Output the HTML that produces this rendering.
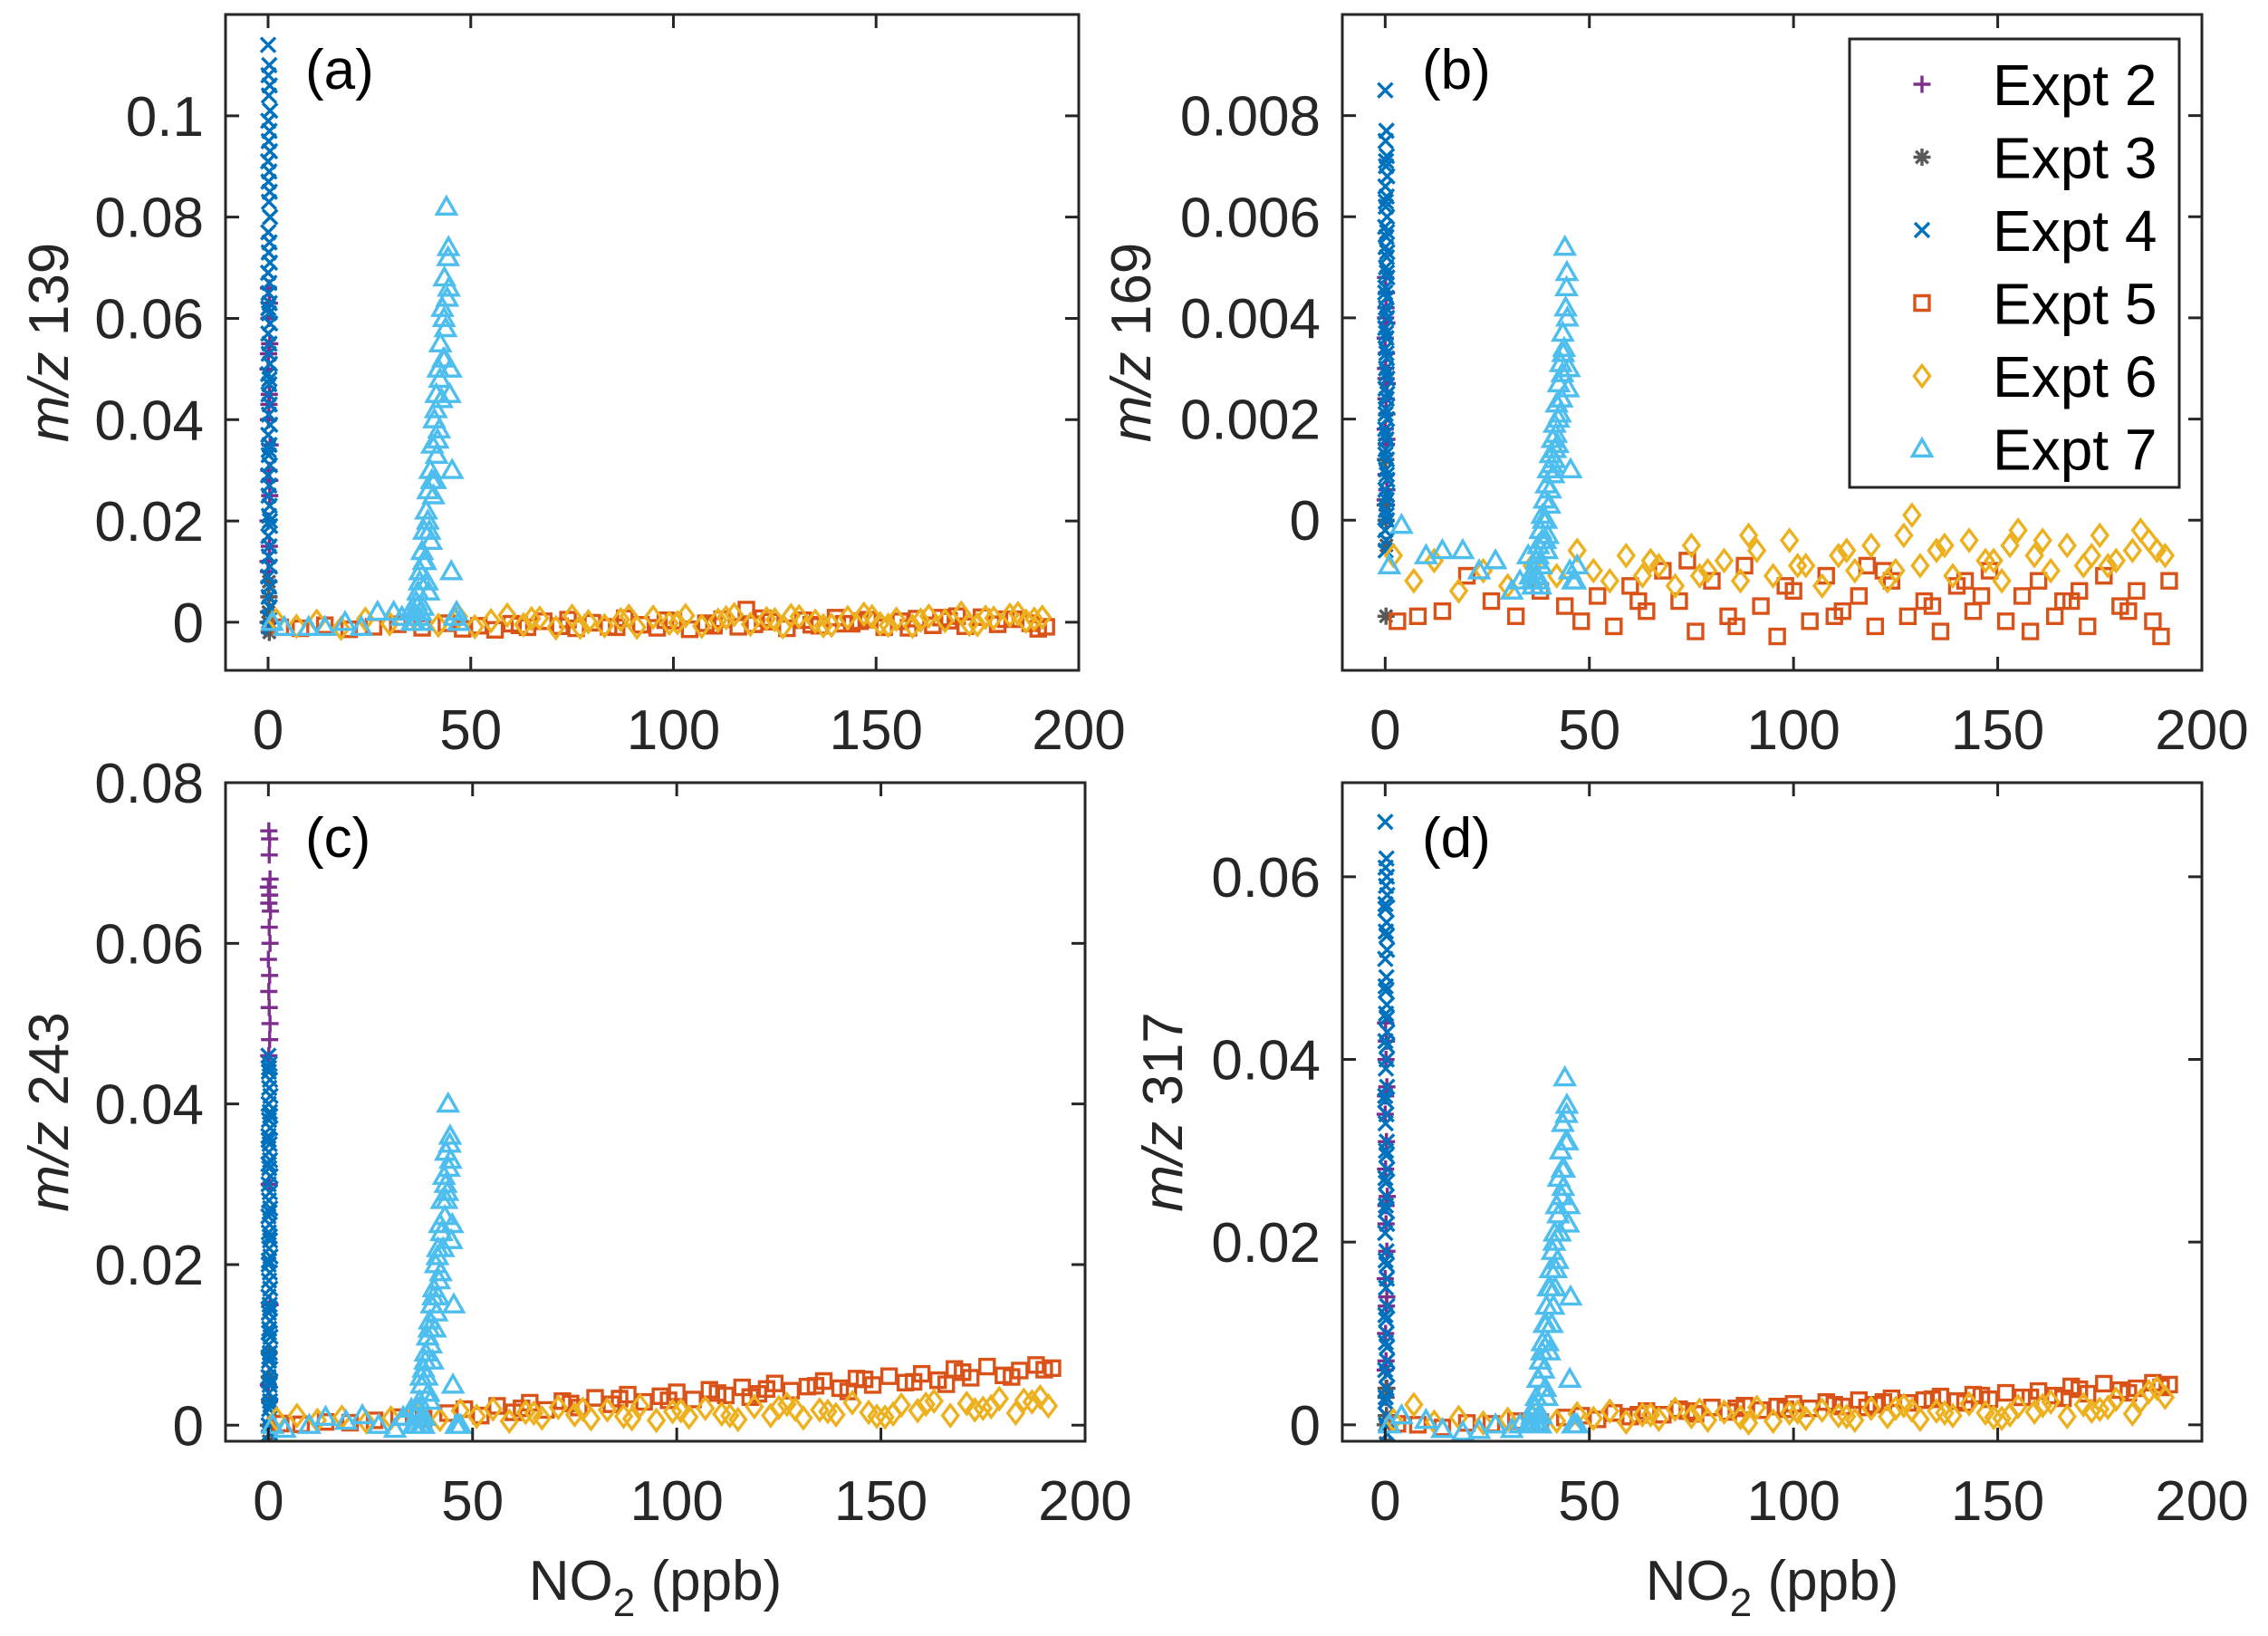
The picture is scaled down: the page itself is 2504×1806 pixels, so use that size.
<!DOCTYPE html>
<html><head><meta charset="utf-8"><style>
html,body{margin:0;padding:0;background:#fff;}
svg{display:block;font-family:"Liberation Sans",Arial,sans-serif;}
</style></head><body>
<svg id="fig" width="2504" height="1806" viewBox="0 0 2504 1806" xmlns="http://www.w3.org/2000/svg"></svg>
<script>
// ---- shared x data ----
const e2X=[0.1,0.3,0.2,0.4,0.0,0.3,0.1,0.5,0.2,0.4,0.0,0.3,0.1,0.2,0.4,0.3,0.1,0.2,0.4,0.0];
const e3X=[0.2,0.1,0.3,0.0,0.2];
const e4X=[0,0.3,0.1,0.4,0.2,0.5,0.05,0.35,0.15,0.45,0,0.3,0.1,0.4,0.2,0.5,0.05,0.35,0.15,0.45,0,0.3,0.1,0.4,0.2,0.5,0.05,0.35,0.15,0.45,0,0.3,0.1,0.4,0.2,0.5,0.05,0.35,0.15,0.45,0,0.3,0.1,0.4,0.2,0.5,0.05,0.35,0.15,0.45,0,0.3,0.1,0.4,0.2,0.5,0.05,0.35,0.15,0.45];
const e5X=[3,8,14,20,26,32,38,44,48,52,56,60,64,68,72,76,80,84,88,92,96,100,104,108,112,116,120,124,128,132,136,140,144,148,152,156,160,164,168,172,176,180,184,188,192,62,74,86,98,110,122,134,146,158,170,182,190,118,142,166];
const e6X=[2,7,12,18,24,30,36,42,47,51,55,59,63,67,71,75,79,83,87,91,95,99,103,107,111,115,119,123,127,131,135,139,143,147,151,155,159,163,167,171,175,179,183,187,191,65,77,89,101,113,125,137,149,161,173,185,189,129,153,177];
const e7X=[1,4,10,14,19,23,27,31,33,35,36,36.5,37,37.5,38,38.5,39,39.5,40,40.5,41,41.5,42,42.5,43,43.5,44,44.5,45,46,36.2,37.2,38.2,39.2,40.2,41.2,42.2,43.2,44.2,45.2,38.8,40.8,42.8,43.8,44.4,41.6,39.6,37.6,35.5,47,36.8,37.4,38.4,39.4,40.4,41.4,42.4,43.4,44.6,45.4,39.8,41.8,43.6,44.8,38,46.5];
// ---- panel (a) m/z 139 ----
const e2A=[0.066,0.063,0.060,0.055,0.050,0.045,0.040,0.035,0.030,0.025,0.020,0.015,0.010,0.005,0.002,0.000,0.053,0.043,0.028,0.012];
const e3A=[0.008,0.002,-0.002,0.000,0.005];
const e4A=[0.114,0.110,0.108,0.106,0.104,0.101,0.099,0.097,0.095,0.093,0.091,0.089,0.087,0.085,0.083,0.080,0.077,0.075,0.073,0.071,0.069,0.067,0.065,0.063,0.061,0.059,0.057,0.055,0.053,0.051,0.049,0.047,0.045,0.043,0.041,0.039,0.037,0.035,0.033,0.031,0.029,0.027,0.025,0.023,0.021,0.019,0.017,0.015,0.013,0.011,0.009,0.007,0.005,0.003,0.001,-0.001,0.062,0.048,0.034,0.020];
const e5A=[-0.0010,-0.0012,-0.0006,-0.0014,-0.0009,-0.0004,-0.0011,-0.0002,-0.0013,-0.0007,-0.0015,-0.0003,-0.0010,0.0002,-0.0008,-0.0012,-0.0001,-0.0009,0.0008,-0.0005,-0.0011,0.0003,-0.0014,-0.0002,0.0006,-0.0009,-0.0004,0.0001,-0.0012,0.0004,-0.0007,0.0009,-0.0003,0.0005,-0.0010,0.0002,0.0007,-0.0006,0.0003,-0.0008,0.0010,-0.0004,0.0006,-0.0002,-0.0009,-0.0006,0.0005,-0.0010,0.0004,-0.0007,0.0008,-0.0005,0.0002,-0.0011,0.0012,0.0006,-0.0013,0.0025,-0.0003,0.0009];
const e6A=[0.0004,-0.0008,0.0002,-0.0012,0.0006,-0.0003,0.0009,-0.0006,0.0011,-0.0009,0.0003,0.0014,-0.0005,0.0008,-0.0011,0.0012,0.0001,-0.0007,0.0005,-0.0010,0.0010,-0.0002,0.0013,-0.0008,0.0004,0.0015,-0.0004,0.0007,-0.0009,0.0011,0.0002,-0.0006,0.0009,0.0016,-0.0003,0.0006,-0.0008,0.0012,0.0003,0.0018,-0.0005,0.0008,0.0014,0.0002,0.0010,0.0007,-0.0010,0.0012,-0.0001,0.0009,0.0005,-0.0007,0.0011,0.0004,-0.0004,0.0017,0.0006,0.0013,-0.0006,0.0010];
const e7A=[0.000,-0.001,-0.001,-0.001,0.000,-0.001,0.002,0.002,0.001,0.002,0.002,0.004,0.006,0.010,0.014,0.018,0.022,0.026,0.030,0.035,0.040,0.045,0.050,0.055,0.062,0.068,0.082,0.074,0.050,0.001,0.000,0.001,0.003,0.008,0.016,0.028,0.038,0.052,0.064,0.010,0.012,0.025,0.044,0.058,0.072,0.033,0.006,0.002,0.000,0.000,0.003,0.008,0.012,0.020,0.028,0.042,0.048,0.060,0.066,0.030,0.018,0.036,0.052,0.045,0.000,0.002];
// ---- panel (b) m/z 169 ----
const e2B=[0.0048,0.0045,0.0042,0.0039,0.0036,0.0033,0.0030,0.0027,0.0024,0.0021,0.0018,0.0015,0.0012,0.0009,0.0006,0.0003,0.0040,0.0028,0.0016,0.0004];
const e3B=[-0.0019,0.0012,-0.0005,0.0003,0.0000];
const e4B=[0.0085,0.0077,0.0075,0.0072,0.0070,0.0068,0.0066,0.0064,0.0062,0.0060,0.0058,0.0056,0.0054,0.0052,0.0050,0.0048,0.0046,0.0044,0.0042,0.0040,0.0038,0.0036,0.0034,0.0032,0.0030,0.0028,0.0026,0.0024,0.0022,0.0020,0.0018,0.0016,0.0014,0.0012,0.0010,0.0008,0.0006,0.0004,0.0002,0.0000,-0.0002,-0.0004,-0.0006,0.0049,0.0037,0.0025,0.0013,0.0001,0.0063,0.0057,0.0045,0.0033,0.0021,0.0009,0.0071,0.0053,0.0041,0.0029,0.0017,0.0005];
const e5B=[-0.0020,-0.0019,-0.0018,-0.0011,-0.0016,-0.0019,-0.0014,-0.0017,-0.0020,-0.0015,-0.0021,-0.0013,-0.0018,-0.0010,-0.0016,-0.0022,-0.0012,-0.0019,-0.0009,-0.0017,-0.0023,-0.0014,-0.0020,-0.0011,-0.0018,-0.0015,-0.0021,-0.0012,-0.0019,-0.0016,-0.0022,-0.0013,-0.0018,-0.0010,-0.0020,-0.0015,-0.0012,-0.0019,-0.0016,-0.0021,-0.0011,-0.0017,-0.0014,-0.0020,-0.0012,-0.0016,-0.0008,-0.0021,-0.0013,-0.0019,-0.0010,-0.0017,-0.0015,-0.0022,-0.0014,-0.0018,-0.0023,-0.0009,-0.0012,-0.0016];
const e6B=[-0.0007,-0.0012,-0.0008,-0.0014,-0.0010,-0.0013,-0.0009,-0.0011,-0.0006,-0.0010,-0.0012,-0.0007,-0.0011,-0.0009,-0.0013,-0.0005,-0.0010,-0.0008,-0.0012,-0.0006,-0.0011,-0.0004,-0.0009,-0.0013,-0.0007,-0.0010,-0.0005,-0.0012,-0.0003,-0.0009,-0.0006,-0.0011,-0.0004,-0.0008,-0.0012,-0.0002,-0.0007,-0.0010,-0.0005,-0.0009,-0.0003,-0.0008,-0.0006,-0.0004,-0.0007,-0.0008,-0.0011,-0.0003,-0.0009,-0.0006,-0.0010,-0.0005,-0.0008,-0.0004,-0.0007,-0.0002,-0.0006,0.0001,-0.0005,-0.0009];
const e7B=[-0.0009,-0.0001,-0.0007,-0.0006,-0.0006,-0.0010,-0.0008,-0.0014,-0.0012,-0.0007,-0.0012,-0.0010,-0.0008,-0.0005,-0.0002,0.0001,0.0004,0.0007,0.0010,0.0013,0.0016,0.0019,0.0023,0.0027,0.0031,0.0037,0.0054,0.0049,0.0030,-0.0012,-0.0013,-0.0011,-0.0009,-0.0004,0.0003,0.0009,0.0015,0.0024,0.0042,-0.0010,0.0000,0.0011,0.0021,0.0034,0.0046,0.0014,-0.0006,-0.0012,-0.0011,-0.0009,-0.0011,-0.0007,-0.0004,0.0000,0.0006,0.0012,0.0020,0.0029,0.0040,0.0010,-0.0003,0.0017,0.0033,0.0026,-0.0013,-0.0012];
// ---- panel (c) m/z 243 ----
const e2C=[0.074,0.073,0.071,0.068,0.067,0.066,0.065,0.064,0.062,0.060,0.058,0.056,0.054,0.052,0.050,0.048,0.046,0.030,0.015,0.005];
const e3C=[0.009,-0.002,0.003,0.000,0.006];
const e4C=[0.046,0.045,0.044,0.043,0.042,0.041,0.040,0.039,0.038,0.037,0.036,0.035,0.034,0.033,0.032,0.031,0.030,0.029,0.028,0.027,0.026,0.025,0.024,0.023,0.022,0.021,0.020,0.019,0.018,0.017,0.016,0.015,0.014,0.013,0.012,0.011,0.010,0.009,0.008,0.007,0.006,0.005,0.004,0.003,0.002,0.001,0.000,-0.001,0.0445,0.0385,0.0325,0.0265,0.0205,0.0145,0.0085,0.0025,0.0355,0.0235,0.0115,0.0055];
const e5C=[0.0002,0.0001,0.0004,0.0003,0.0006,0.0010,0.0008,0.0015,0.0020,0.0012,0.0024,0.0016,0.0028,0.0019,0.0030,0.0022,0.0034,0.0026,0.0038,0.0029,0.0036,0.0041,0.0032,0.0044,0.0037,0.0047,0.0039,0.0052,0.0043,0.0048,0.0055,0.0046,0.0058,0.0050,0.0061,0.0053,0.0064,0.0056,0.0070,0.0059,0.0073,0.0062,0.0068,0.0075,0.0071,0.0021,0.0027,0.0033,0.0031,0.0040,0.0045,0.0049,0.0057,0.0054,0.0066,0.0060,0.0069,0.0035,0.0042,0.0051];
const e6C=[0.0008,0.0012,0.0006,0.0010,0.0004,0.0009,0.0014,0.0007,0.0018,0.0011,0.0020,0.0005,0.0016,0.0009,0.0022,0.0013,0.0008,0.0019,0.0011,0.0024,0.0006,0.0017,0.0010,0.0021,0.0014,0.0007,0.0023,0.0012,0.0026,0.0009,0.0019,0.0013,0.0028,0.0016,0.0010,0.0025,0.0018,0.0030,0.0012,0.0027,0.0021,0.0033,0.0015,0.0029,0.0024,0.0015,0.0020,0.0008,0.0018,0.0012,0.0022,0.0017,0.0011,0.0026,0.0019,0.0031,0.0035,0.0020,0.0014,0.0023];
const e7C=[0.000,-0.0005,0.000,0.001,0.0005,0.0012,0.000,-0.0005,0.001,0.002,0.001,0.002,0.003,0.005,0.007,0.009,0.011,0.013,0.015,0.017,0.020,0.022,0.025,0.028,0.031,0.034,0.040,0.036,0.025,0.000,0.000,0.000,0.001,0.004,0.008,0.014,0.019,0.026,0.032,0.005,0.006,0.012,0.022,0.029,0.035,0.016,0.003,0.001,0.000,0.000,0.002,0.006,0.008,0.012,0.016,0.021,0.024,0.030,0.033,0.015,0.010,0.018,0.028,0.023,0.000,0.000];
// ---- panel (d) m/z 317 ----
const e2D=[0.044,0.042,0.040,0.037,0.034,0.031,0.028,0.025,0.022,0.019,0.016,0.013,0.010,0.007,0.004,0.001,0.036,0.024,0.014,0.006];
const e3D=[0.004,-0.002,0.001,0.000,0.003];
const e4D=[0.066,0.062,0.061,0.060,0.059,0.058,0.057,0.055,0.054,0.052,0.051,0.049,0.048,0.046,0.045,0.043,0.042,0.040,0.039,0.037,0.036,0.034,0.033,0.031,0.030,0.028,0.027,0.025,0.024,0.022,0.021,0.019,0.018,0.016,0.015,0.013,0.012,0.010,0.009,0.007,0.006,0.004,0.003,0.001,0.000,-0.001,0.0565,0.0535,0.0475,0.0415,0.0355,0.0295,0.0235,0.0175,0.0115,0.0055,0.0025,0.0445,0.0265,0.0085];
const e5D=[0.0001,0.0000,-0.0003,0.0002,0.0001,0.0004,0.0003,0.0008,0.0010,0.0006,0.0013,0.0009,0.0015,0.0011,0.0017,0.0012,0.0019,0.0014,0.0021,0.0016,0.0020,0.0023,0.0018,0.0025,0.0020,0.0027,0.0022,0.0029,0.0024,0.0027,0.0031,0.0026,0.0033,0.0028,0.0035,0.0030,0.0037,0.0032,0.0042,0.0034,0.0045,0.0038,0.0040,0.0046,0.0044,0.0011,0.0015,0.0018,0.0017,0.0022,0.0025,0.0028,0.0032,0.0030,0.0039,0.0035,0.0041,0.0019,0.0024,0.0029];
const e6D=[0.0005,0.0022,0.0003,0.0008,0.0002,0.0006,0.0010,0.0004,0.0012,0.0007,0.0015,0.0003,0.0011,0.0006,0.0017,0.0009,0.0005,0.0014,0.0008,0.0019,0.0004,0.0013,0.0007,0.0016,0.0010,0.0005,0.0018,0.0009,0.0021,0.0006,0.0015,0.0010,0.0023,0.0013,0.0007,0.0020,0.0014,0.0025,0.0009,0.0022,0.0017,0.0028,0.0012,0.0036,0.0030,0.0011,0.0016,0.0002,0.0014,0.0009,0.0018,0.0013,0.0008,0.0021,0.0015,0.0026,0.0040,0.0016,0.0011,0.0019];
const e7D=[0.000,0.001,0.0005,-0.0005,-0.0008,-0.0006,0.000,-0.0005,0.000,0.000,0.001,0.002,0.003,0.005,0.007,0.009,0.011,0.013,0.015,0.017,0.019,0.021,0.024,0.027,0.030,0.033,0.038,0.035,0.024,0.000,0.000,0.000,0.001,0.004,0.008,0.013,0.018,0.025,0.031,0.005,0.006,0.011,0.021,0.028,0.034,0.015,0.003,0.001,0.000,0.000,0.002,0.005,0.008,0.011,0.015,0.020,0.023,0.028,0.031,0.014,0.009,0.017,0.026,0.022,0.000,0.000];
// ---- ticks ----
const xTicks=[0,50,100,150,200];
const yTicksA=[0,0.02,0.04,0.06,0.08,0.1];
const yTicksB=[0,0.002,0.004,0.006,0.008];
const yTicksC=[0,0.02,0.04,0.06,0.08];
const yTicksD=[0,0.02,0.04,0.06];
const seriesNames=["Expt 2","Expt 3","Expt 4","Expt 5","Expt 6","Expt 7"];

const NS="http://www.w3.org/2000/svg";
const svg=document.getElementById('fig');
const COL={e2:"#7E2F8E",e3:"#595959",e4:"#0072BD",e5:"#D95319",e6:"#EDB120",e7:"#4DBEEE"};
const SHAPE={e2:"plus",e3:"star",e4:"cross",e5:"square",e6:"diamond",e7:"triangle"};
function mk(tag,attrs,parent){const e=document.createElementNS(NS,tag);for(const k in attrs)e.setAttribute(k,attrs[k]);(parent||svg).appendChild(e);return e;}
function markerPath(s,cx,cy){
  const r=9.5;
  if(s==="plus")return `M${cx-r} ${cy}H${cx+r}M${cx} ${cy-r}V${cy+r}`;
  if(s==="cross"){const q=8;return `M${cx-q} ${cy-q}L${cx+q} ${cy+q}M${cx-q} ${cy+q}L${cx+q} ${cy-q}`;}
  if(s==="star"){const q=6.8;return `M${cx-r} ${cy}H${cx+r}M${cx} ${cy-r}V${cy+r}M${cx-q} ${cy-q}L${cx+q} ${cy+q}M${cx-q} ${cy+q}L${cx+q} ${cy-q}`;}
  if(s==="square"){const q=8;return `M${cx-q} ${cy-q}H${cx+q}V${cy+q}H${cx-q}Z`;}
  if(s==="diamond"){const q=11.5;return `M${cx} ${cy-q}L${cx+q*0.75} ${cy}L${cx} ${cy+q}L${cx-q*0.75} ${cy}Z`;}
  if(s==="triangle"){const q=10.5;return `M${cx} ${cy-q}L${cx+q} ${cy+q*0.75}L${cx-q} ${cy+q*0.75}Z`;}
}
let clipId=0;
function panel(p){
  const g=mk('g',{});
  
  
  const xs=v=>p.L+(v-p.xmin)/(p.xmax-p.xmin)*(p.R-p.L);
  const ys=v=>p.B-(v-p.ymin)/(p.ymax-p.ymin)*(p.B-p.T);
  const cid='clip'+(clipId++);
  const cp=mk('clipPath',{id:cid},g);mk('rect',{x:p.L,y:p.T,width:p.R-p.L,height:p.B-p.T},cp);
  const dg=mk('g',{'clip-path':`url(#${cid})`},g);
  
  
  p.series.forEach(s=>{
    const sg=mk('g',{},dg);
    
    
    let d='';
    s.x.forEach((xv,i)=>{d+=markerPath(SHAPE[s.key],xs(xv),ys(s.y[i]));});
    const path=mk('path',{d:d,fill:'none',stroke:COL[s.key],'stroke-width':3.4,'stroke-linejoin':'miter'},sg);
    
    
  });
  const box=mk('rect',{x:p.L,y:p.T,width:p.R-p.L,height:p.B-p.T,fill:'none',stroke:'#262626','stroke-width':3},g);
  
  
  const tl=15;
  xTicks.forEach(t=>{
    const x=xs(t);
    mk('path',{d:`M${x} ${p.B}V${p.B-tl}M${x} ${p.T}V${p.T+tl}`,stroke:'#262626','stroke-width':3},g);
    const tx=mk('text',{x:x,y:p.B+87,'text-anchor':'middle','font-size':62,fill:'#262626'},g);
    tx.textContent=String(t);
    
    
  });
  p.yt.forEach(t=>{
    const y=ys(t);
    mk('path',{d:`M${p.L} ${y}H${p.L+tl}M${p.R} ${y}H${p.R-tl}`,stroke:'#262626','stroke-width':3},g);
    const tx=mk('text',{x:p.L-24,y:y+22,'text-anchor':'end','font-size':62,fill:'#262626'},g);
    tx.textContent=String(t);
    
    
  });
  const yl=mk('text',{transform:`translate(${p.ylx},${(p.T+p.B)/2}) rotate(-90)`,'text-anchor':'middle','font-size':62,fill:'#262626'},g);
  yl.innerHTML=`<tspan font-style="italic">m/z</tspan> ${p.label}`;
  
  
  const pl=mk('text',{x:p.L+88,y:p.T+82,'font-size':62,fill:'#000'},g);
  pl.textContent='('+p.id+')';
  
  
  if(p.xlabel){
    const xl=mk('text',{x:(p.L+p.R)/2,y:p.B+175,'text-anchor':'middle','font-size':62,fill:'#262626'},g);
    xl.innerHTML='NO<tspan font-size="44" dy="18">2</tspan><tspan dy="-18"> (ppb)</tspan>';
    
    
  }
}
function S(a,b,c,d,e,f){return [{key:'e2',x:e2X,y:a},{key:'e3',x:e3X,y:b},{key:'e4',x:e4X,y:c},{key:'e5',x:e5X,y:d},{key:'e6',x:e6X,y:e},{key:'e7',x:e7X,y:f}];}
panel({id:'a',L:249,R:1191,T:16,B:740,xmin:-10.5,xmax:200,ymin:-0.0095,ymax:0.12,yt:yTicksA,label:'139',ylx:75,series:S(e2A,e3A,e4A,e5A,e6A,e7A)});
panel({id:'b',L:1482,R:2431,T:16,B:740,xmin:-10.5,xmax:200,ymin:-0.00297,ymax:0.01,yt:yTicksB,label:'169',ylx:1270,series:S(e2B,e3B,e4B,e5B,e6B,e7B)});
panel({id:'c',L:249,R:1198,T:864,B:1591,xmin:-10.5,xmax:200,ymin:-0.002,ymax:0.08,yt:yTicksC,label:'243',ylx:75,xlabel:true,series:S(e2C,e3C,e4C,e5C,e6C,e7C)});
panel({id:'d',L:1482,R:2431,T:864,B:1591,xmin:-10.5,xmax:200,ymin:-0.0018,ymax:0.0703,yt:yTicksD,label:'317',ylx:1305,xlabel:true,series:S(e2D,e3D,e4D,e5D,e6D,e7D)});
const lg=mk('g',{});


mk('rect',{x:2042,y:43,width:364,height:495,fill:'#fff',stroke:'#262626','stroke-width':3},lg);
['e2','e3','e4','e5','e6','e7'].forEach((k,i)=>{
  const cy=93+i*80.5;
  const m=mk('path',{d:markerPath(SHAPE[k],2122,cy),fill:'none',stroke:COL[k],'stroke-width':3.4},lg);
  
  
  const t=mk('text',{x:2200,y:cy+23,'font-size':64,fill:'#000'},lg);
  t.textContent=seriesNames[i];
  
  
});
</script>
</body></html>
